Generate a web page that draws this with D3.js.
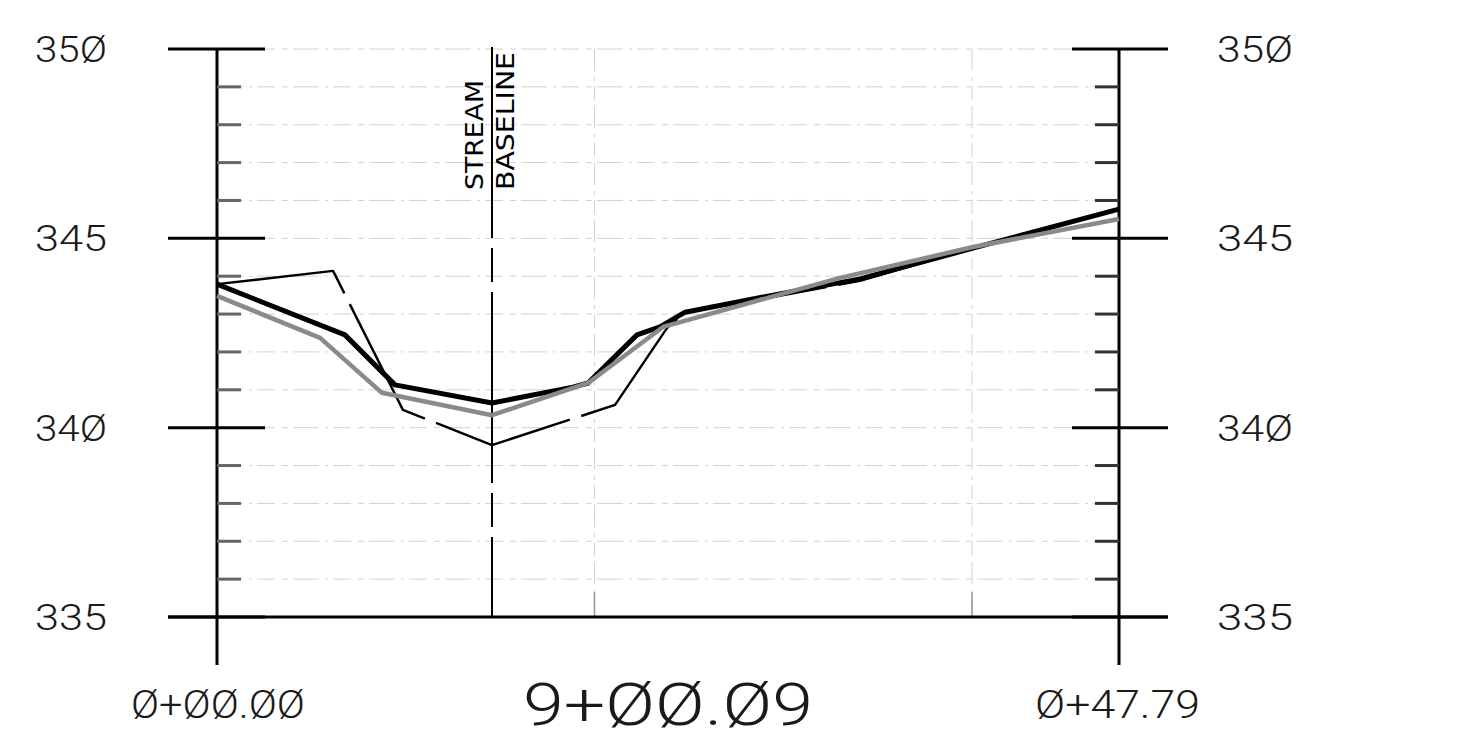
<!DOCTYPE html>
<html>
<head>
<meta charset="utf-8">
<script src="https://cdn.jsdelivr.net/npm/d3@7"></script>
<style>
  html, body { margin: 0; padding: 0; background: #fff; overflow: hidden; }
  svg { display: block; }
  text { font-family: Roboto, "DejaVu Sans", sans-serif; font-weight: 300; fill: #1a1a1a; }
  text.sb { font-family: "DejaVu Sans", sans-serif; font-weight: 400; fill: #000; }
</style>
</head>
<body>
<svg id="chart" width="1473" height="739"></svg>
<script>
// ---------------- data ----------------
const stationStart = 0;          // Ø+ØØ.ØØ
const stationEnd = 47.79;        // Ø+47.79
const elevMin = 335;
const elevMax = 350;
const majorElevations = [335, 340, 345, 350];
const majorLabels = ["335", "34Ø", "345", "35Ø"];
const minorElevations = [336, 337, 338, 339, 341, 342, 343, 344, 346, 347, 348, 349];
const gridStations = [20, 40];
const streamBaselineStation = 14.57;
const sectionTitle = "9+ØØ.Ø9";
const startLabel = "Ø+ØØ.ØØ";
const endLabel = "Ø+47.79";
const baselineWords = ["STREAM", "BASELINE"];

// thin dashed line (existing ground)
const existingStations = [0, 6.15, 9.85, 14.57, 21.09, 23.84, 24.80, 29.46, 34.07, 40.05, 47.79];
const existingElev     = [343.79, 344.14, 340.47, 339.54, 340.60, 342.63, 343.05, 343.45, 343.88, 344.74, 345.77];

// thick black line (proposed)
const proposedStations = [0, 6.78, 9.43, 14.57, 18.86, 19.66, 22.25, 23.47, 24.80, 29.46, 34.07, 40.05, 47.79];
const proposedElev     = [343.79, 342.45, 341.13, 340.65, 341.07, 341.18, 342.45, 342.66, 343.05, 343.50, 343.93, 344.74, 345.77];

// thick grey line
const greyStations = [0, 5.46, 8.74, 14.57, 19.66, 23.63, 32.96, 40.05, 47.79];
const greyElev     = [343.48, 342.37, 340.92, 340.33, 341.18, 342.66, 343.95, 344.77, 345.51];

// ---------------- scales ----------------
const svg = d3.select("#chart");
const x = d3.scaleLinear().domain([stationStart, stationEnd]).range([217, 1119]);
const y = d3.scaleLinear().domain([elevMin, elevMax]).range([617, 49]);
const xL = x(stationStart), xR = x(stationEnd);

// ---------------- light grid ----------------
const gridG = svg.append("g");
const gridElev = minorElevations.concat([340, 345, 350]);
gridG.selectAll("line.h").data(gridElev).join("line")
  .attr("x1", xL).attr("x2", xR)
  .attr("y1", d => y(d)).attr("y2", d => y(d))
  .attr("stroke", "#d2d2d2").attr("stroke-width", 1)
  .attr("stroke-dasharray", "26,6,3,5,18,7,6,5");
gridG.selectAll("line.v").data(gridStations).join("line")
  .attr("x1", d => x(d)).attr("x2", d => x(d))
  .attr("y1", y(elevMax)).attr("y2", y(elevMin))
  .attr("stroke", "#d2d2d2").attr("stroke-width", 1)
  .attr("stroke-dasharray", "22,6,4,5,14,6");
gridG.selectAll("line.vt").data(gridStations).join("line")
  .attr("x1", d => x(d)).attr("x2", d => x(d))
  .attr("y1", y(elevMin) - 25).attr("y2", y(elevMin))
  .attr("stroke", "#999").attr("stroke-width", 1.6);

// ---------------- axes ----------------
const axG = svg.append("g");
[xL, xR].forEach(px => {
  axG.append("line").attr("x1", px).attr("x2", px)
    .attr("y1", y(elevMax)).attr("y2", y(elevMin) + 48)
    .attr("stroke", "#000").attr("stroke-width", 3);
});
// minor ticks
axG.selectAll("line.minL").data(minorElevations).join("line")
  .attr("x1", xL).attr("x2", xL + 24)
  .attr("y1", d => y(d)).attr("y2", d => y(d))
  .attr("stroke", "#666").attr("stroke-width", 3);
axG.selectAll("line.minR").data(minorElevations).join("line")
  .attr("x1", xR - 24).attr("x2", xR)
  .attr("y1", d => y(d)).attr("y2", d => y(d))
  .attr("stroke", "#333").attr("stroke-width", 3);
// major ticks
axG.selectAll("line.majL").data(majorElevations).join("line")
  .attr("x1", xL - 49).attr("x2", xL + 48)
  .attr("y1", d => y(d)).attr("y2", d => y(d))
  .attr("stroke", "#000").attr("stroke-width", 3);
axG.selectAll("line.majR").data(majorElevations).join("line")
  .attr("x1", xR - 47).attr("x2", xR + 49)
  .attr("y1", d => y(d)).attr("y2", d => y(d))
  .attr("stroke", "#000").attr("stroke-width", 3);
// bottom line
axG.append("line").attr("x1", xL - 49).attr("x2", xR + 49)
  .attr("y1", y(elevMin)).attr("y2", y(elevMin))
  .attr("stroke", "#000").attr("stroke-width", 3);

// ---------------- stream baseline ----------------
const sb = x(streamBaselineStation);
svg.append("line").attr("x1", sb).attr("x2", sb)
  .attr("y1", y(elevMax) - 2).attr("y2", y(elevMin))
  .attr("stroke", "#000").attr("stroke-width", 2)
  .attr("stroke-dasharray", "191,10,34,10");
svg.append("text").attr("class", "sb")
  .attr("transform", `translate(${sb - 9},190) rotate(-90)`)
  .attr("font-size", 24)
  .attr("textLength", 110).attr("lengthAdjust", "spacingAndGlyphs")
  .text(baselineWords[0]);
svg.append("text").attr("class", "sb")
  .attr("transform", `translate(${sb + 22},190) rotate(-90)`)
  .attr("font-size", 24)
  .attr("textLength", 138).attr("lengthAdjust", "spacingAndGlyphs")
  .text(baselineWords[1]);

// ---------------- profile lines ----------------
const line = d3.line().x(d => x(d[0])).y(d => y(d[1]));
const existing = existingStations.map((s, i) => [s, existingElev[i]]);
const proposed = proposedStations.map((s, i) => [s, proposedElev[i]]);
const grey = greyStations.map((s, i) => [s, greyElev[i]]);

svg.append("path").datum(existing).attr("d", line)
  .attr("fill", "none").attr("stroke", "#000").attr("stroke-width", 2.4)
  .attr("stroke-dasharray", "142,12").attr("stroke-linejoin", "round");
svg.append("path").datum(proposed).attr("d", line)
  .attr("fill", "none").attr("stroke", "#000").attr("stroke-width", 5)
  .attr("stroke-linejoin", "round");
svg.append("path").datum(grey).attr("d", line)
  .attr("fill", "none").attr("stroke", "#8a8a8a").attr("stroke-width", 4.5)
  .attr("stroke-linejoin", "round");

// ---------------- labels ----------------
const labG = svg.append("g");
labG.selectAll("text.l").data(majorElevations).join("text")
  .attr("x", 35).attr("y", d => y(d) + 13)
  .attr("font-size", 36)
  .attr("textLength", 72).attr("lengthAdjust", "spacingAndGlyphs")
  .text((d, i) => majorLabels[i]);
labG.selectAll("text.r").data(majorElevations).join("text")
  .attr("x", 1217).attr("y", d => y(d) + 13)
  .attr("font-size", 36)
  .attr("textLength", 76).attr("lengthAdjust", "spacingAndGlyphs")
  .text((d, i) => majorLabels[i]);

labG.append("text").attr("x", 131).attr("y", 718)
  .attr("font-size", 38).attr("textLength", 174).attr("lengthAdjust", "spacingAndGlyphs")
  .text(startLabel);
labG.append("text").attr("x", 1035).attr("y", 718)
  .attr("font-size", 38).attr("textLength", 165).attr("lengthAdjust", "spacingAndGlyphs")
  .text(endLabel);
labG.append("text").attr("x", 523).attr("y", 725)
  .attr("font-size", 60).attr("textLength", 290).attr("lengthAdjust", "spacingAndGlyphs")
  .text(sectionTitle);
</script>
</body>
</html>
